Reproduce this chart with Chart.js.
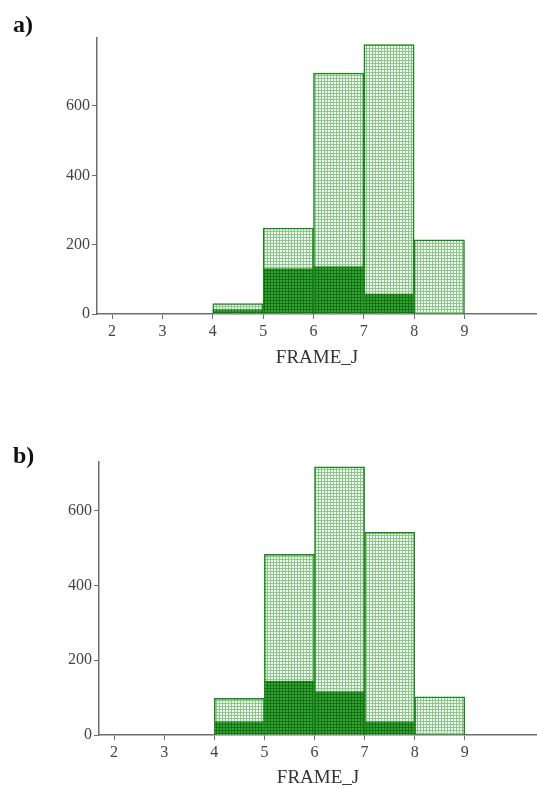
<!DOCTYPE html>
<html>
<head>
<meta charset="utf-8">
<script src="https://cdn.jsdelivr.net/npm/chart.js@4.4.1/dist/chart.umd.min.js"></script>
<style>
  html, body { margin: 0; padding: 0; background: #fff; overflow: hidden; width: 537px; height: 788px; }
  .panel { position: absolute; left: 0; width: 537px; }
  .tag { position: absolute; left: 13px; font: bold 24px "Liberation Serif", serif; color: #111; line-height: 1; }
</style>
</head>
<body>
<div class="panel" style="top:0"><canvas id="chartA" width="537" height="394"></canvas></div>
<div class="tag" style="top:12px">a)</div>
<div class="panel" style="top:394px"><canvas id="chartB" width="537" height="420"></canvas></div>
<div class="tag" style="top:443px">b)</div>

<script>
// bins (left edges, width 1) and counts
const binStarts = [4, 5, 6, 7, 8];
const totalA = [30, 248, 695, 777, 214];
const darkA  = [13, 131, 137, 58, 2];
const totalB = [98, 483, 717, 542, 102];
const darkB  = [36, 144, 116, 36, 2];

const xTicks = [2, 3, 4, 5, 6, 7, 8, 9];
const yTicks = [0, 200, 400, 600];
const xTitle = "FRAME_J";

// small dotted-grid fills like the original histogram shading
function gridPattern(bg, line) {
  const c = document.createElement("canvas");
  c.width = 3; c.height = 3;
  const g = c.getContext("2d");
  g.fillStyle = bg;
  g.fillRect(0, 0, 3, 3);
  g.fillStyle = line;
  g.fillRect(0, 0, 3, 1);
  g.fillRect(0, 0, 1, 3);
  return g.createPattern(c, "repeat");
}

const axisColor = "#6e6e6e";
const edgeColor = "#1b861b";

function toPoints(vals) {
  return binStarts.map((b, i) => ({ x: b + 0.5, y: vals[i] }));
}

function makeHist(id, total, dark, opts) {
  const ctx = document.getElementById(id).getContext("2d");
  const lightFill = gridPattern("#f2faf2", "#8cc68c");
  const darkFill = gridPattern("#36a236", "#137313");

  new Chart(ctx, {
    type: "bar",
    data: {
      datasets: [
        {
          data: toPoints(dark),
          backgroundColor: darkFill,
          borderColor: edgeColor,
          borderWidth: 1,
          barPercentage: 1,
          categoryPercentage: 1
        },
        {
          data: toPoints(total),
          backgroundColor: lightFill,
          borderColor: edgeColor,
          borderWidth: 1.5,
          barPercentage: 1,
          categoryPercentage: 1
        }
      ]
    },
    options: {
      responsive: false,
      animation: false,
      layout: { padding: { top: opts.top, left: 0, right: 0, bottom: 0 } },
      plugins: { legend: { display: false }, tooltip: { enabled: false } },
      scales: {
        x: {
          type: "linear",
          stacked: true,
          offset: false,
          min: 1.7,
          max: 10.44,
          afterBuildTicks: (s) => { s.ticks = xTicks.map(v => ({ value: v })); },
          afterFit: (s) => { s.height = opts.xHeight; },
          grid: { offset: false, drawOnChartArea: false, drawTicks: true, tickLength: 5, color: axisColor },
          border: { display: true, color: axisColor, width: 1.5 },
          ticks: {
            autoSkip: false,
            maxRotation: 0,
            padding: 3,
            color: "#444",
            font: { family: "'Liberation Serif', serif", size: 16 }
          },
          title: {
            display: true,
            text: xTitle,
            color: "#333",
            font: { family: "'Liberation Serif', serif", size: 19 },
            padding: { top: 0, bottom: 25 }
          }
        },
        y: {
          stacked: false,
          min: 0,
          max: opts.yMax,
          afterBuildTicks: (s) => { s.ticks = yTicks.map(v => ({ value: v })); },
          afterFit: (s) => { s.width = opts.yWidth; },
          grid: { drawOnChartArea: false, drawTicks: true, tickLength: 5, color: axisColor },
          border: { display: true, color: axisColor, width: 1.5 },
          ticks: {
            padding: 2,
            color: "#444",
            font: { family: "'Liberation Serif', serif", size: 16 }
          }
        }
      }
    }
  });
}

makeHist("chartA", totalA, darkA, { top: 38, yWidth: 97, xHeight: 80, yMax: 796 });
makeHist("chartB", totalB, darkB, { top: 68, yWidth: 99, xHeight: 79, yMax: 730 });
</script>
</body>
</html>
